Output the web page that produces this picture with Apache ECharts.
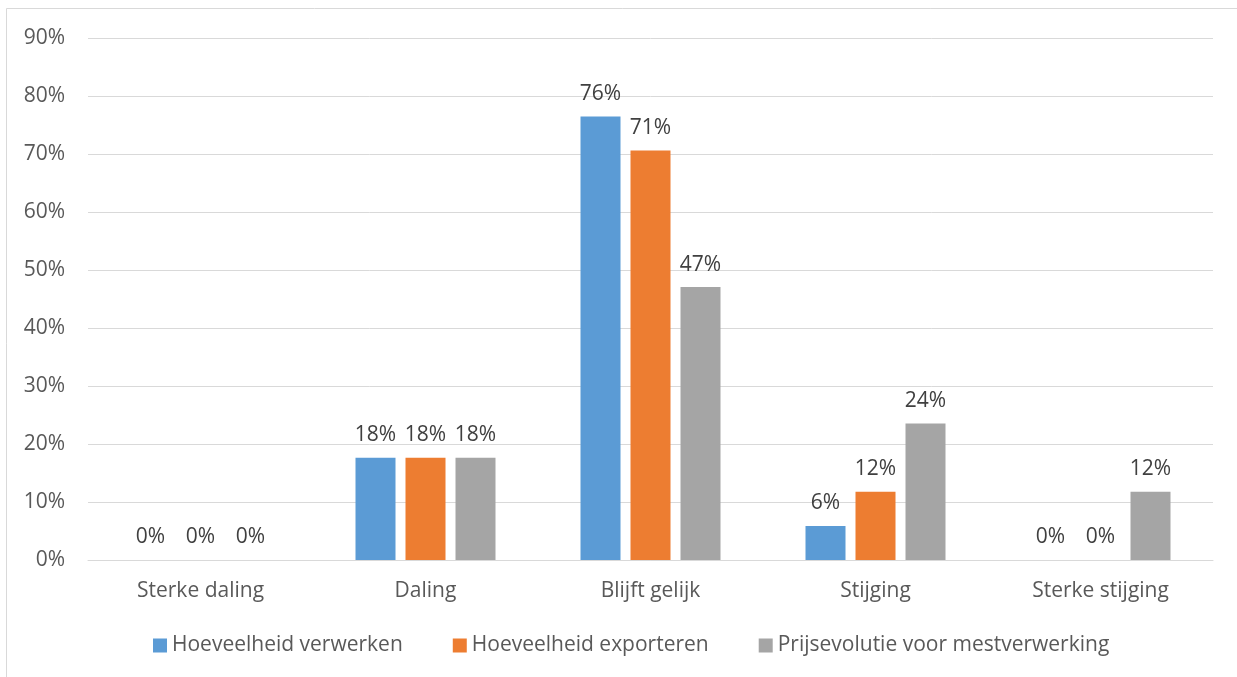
<!DOCTYPE html>
<html>
<head>
<meta charset="utf-8">
<script src="https://cdn.jsdelivr.net/npm/echarts@6/dist/echarts.min.js"></script>
<style>
html,body{margin:0;padding:0;background:#fff;}
#chart{width:1237px;height:677px;}
</style>
</head>
<body>
<div id="chart"></div>
<script>
const categories = ['Sterke daling', 'Daling', 'Blijft gelijk', 'Stijging', 'Sterke stijging'];
const seriesNames = ['Hoeveelheid verwerken', 'Hoeveelheid exporteren', 'Prijsevolutie voor mestverwerking'];
const verwerken = [0, 17.65, 76.47, 5.88, 0];
const exporteren = [0, 17.65, 70.59, 11.76, 0];
const prijsevolutie = [0, 17.65, 47.06, 23.53, 11.76];
const colors = ['#5b9bd5', '#ed7d31', '#a5a5a5'];

const FONT = '"Open Sans", "Noto Sans", sans-serif';
const chart = echarts.init(document.getElementById('chart'), null, {renderer: 'canvas'});

function mk(name, data, color) {
  return {
    name: name,
    type: 'bar',
    data: data,
    barWidth: 40,
    barGap: '25%',
    itemStyle: {color: color},
    label: {
      show: true,
      position: 'top',
      distance: 12,
      color: '#404040',
      fontSize: 21,
      fontFamily: FONT,
      formatter: p => Math.round(p.value) + '%'
    }
  };
}

chart.setOption({
  animation: false,
  backgroundColor: '#fff',
  graphic: [{
    type: 'rect',
    shape: {x: 6.5, y: 8.5, width: 1300, height: 700},
    style: {fill: 'none', stroke: '#d9d9d9', lineWidth: 1},
    silent: true
  }],
  grid: {left: 88, right: 24, top: 38, bottom: 117},
  legend: {
    data: seriesNames,
    top: 630,
    left: 148,
    itemWidth: 14,
    itemHeight: 14,
    itemGap: 50,
    icon: 'rect',
    textStyle: {color: '#595959', fontSize: 21, fontFamily: FONT}
  },
  xAxis: {
    type: 'category',
    data: categories,
    axisLine: {show: true, lineStyle: {color: '#d9d9d9', width: 1}},
    axisTick: {show: false},
    axisLabel: {color: '#595959', fontSize: 21, fontFamily: FONT, margin: 21}
  },
  yAxis: {
    type: 'value',
    min: 0,
    max: 90,
    interval: 10,
    axisLine: {show: false},
    axisTick: {show: false},
    splitLine: {lineStyle: {color: '#d9d9d9', width: 1}},
    axisLabel: {color: '#595959', fontSize: 21, fontFamily: FONT, margin: 23, formatter: v => v + '%'}
  },
  series: [
    mk(seriesNames[0], verwerken, colors[0]),
    mk(seriesNames[1], exporteren, colors[1]),
    mk(seriesNames[2], prijsevolutie, colors[2])
  ]
});
</script>
</body>
</html>
